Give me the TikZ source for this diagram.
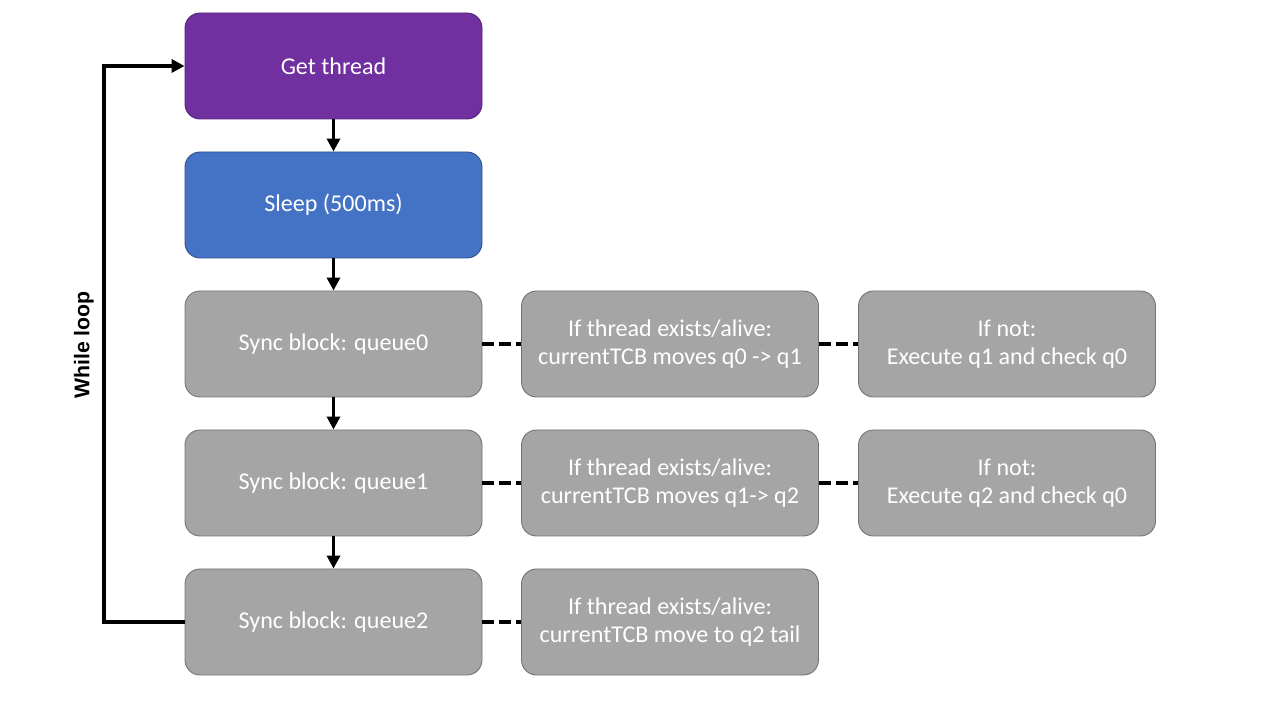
\documentclass[tikz,border=0pt]{standalone}
\usepackage{fontspec}
\setmainfont{Carlito}
\newfontfamily\labelfont{Liberation Sans}
\usetikzlibrary{arrows.meta}

\definecolor{getcol}{HTML}{7030A0}
\definecolor{sleepcol}{HTML}{4472C4}
\definecolor{synccol}{HTML}{A5A5A5}

\begin{document}
\begin{tikzpicture}[
    every node/.style={rounded corners=0.3cm, minimum width=5.94cm, minimum height=2.12cm,
        text=white, align=center, font=\fontsize{13.7pt}{16pt}\selectfont, line width=0.5pt},
    getbox/.style={fill=getcol, draw=getcol!75!black},
    sleepbox/.style={fill=sleepcol, draw=sleepcol!70!black},
    syncbox/.style={fill=synccol, draw=synccol!70!black},
    flow/.style={-{Triangle[length=0.26cm, width=0.26cm]}, line width=2.2pt},
    link/.style={line width=2.3pt, dash pattern=on 0.24cm off 0.1cm}
]
    \useasboundingbox (0,0) rectangle (25.6,14.4);

    % Main column
    \node[getbox] (get) at (6.67, 13.08) {Get thread};
    \node[sleepbox] (sleep) at (6.67, 10.30) {Sleep (500ms)};
    \node[syncbox] (q0) at (6.67, 7.52) {Sync block: queue0};
    \node[syncbox] (q1) at (6.67, 4.74) {Sync block: queue1};
    \node[syncbox] (q2) at (6.67, 1.96) {Sync block: queue2};

    % Checks
    \node[syncbox] (alive0) at (13.40, 7.52) {If thread exists/alive:\\currentTCB moves q0 -> q1};
    \node[syncbox] (alive1) at (13.40, 4.74) {If thread exists/alive:\\currentTCB moves q1-> q2};
    \node[syncbox] (alive2) at (13.40, 1.96) {If thread exists/alive:\\currentTCB move to q2 tail};
    \node[syncbox] (not0) at (20.14, 7.52) {If not:\\Execute q1 and check q0};
    \node[syncbox] (not1) at (20.14, 4.74) {If not:\\Execute q2 and check q0};

    % Flow
    \draw[flow] (get) -- (sleep);
    \draw[flow] (sleep) -- (q0);
    \draw[flow] (q0) -- (q1);
    \draw[flow] (q1) -- (q2);

    % Links
    \draw[link] (q0) -- (alive0);
    \draw[link] (alive0) -- (not0);
    \draw[link] (q1) -- (alive1);
    \draw[link] (alive1) -- (not1);
    \draw[link] (q2) -- (alive2);

    % Loop back
    \coordinate (loop) at (2.08, 1.96);
    \draw[flow] (q2.west) -- (loop) |- (get.west);
    \node[draw=none, fill=none, minimum width=0pt, minimum height=0pt, inner sep=0pt,
        text=black, rotate=90, font=\labelfont\bfseries\fontsize{12.1pt}{14pt}\selectfont]
        (looplabel) at (1.68, 7.50) {While loop};
\end{tikzpicture}
\end{document}
